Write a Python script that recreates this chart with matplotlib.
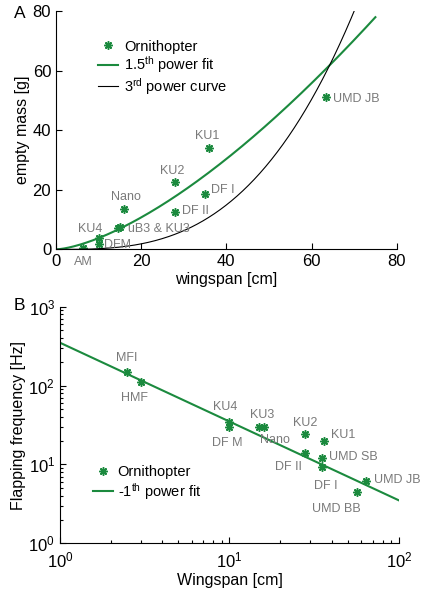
import numpy as np
import matplotlib.pyplot as plt

plt.rcParams['font.family'] = ['Liberation Sans', 'DejaVu Sans']
plt.rcParams['mathtext.fontset'] = 'custom'
plt.rcParams['mathtext.rm'] = 'Liberation Sans'
plt.rcParams['mathtext.it'] = 'Liberation Sans:italic'

green = '#1b8a3e'
gray = '#7a7a7a'
star = (8, 2, 0)

# panel A: wingspan [cm] vs empty mass [g]
span_a = [6.3, 10, 10, 14.6, 15, 16, 27.9, 28, 35, 36, 63.4]
mass_a = [0.5, 3.8, 1.7, 7.3, 7.5, 13.6, 22.6, 12.4, 18.5, 34.2, 51]
names_a = ['AM', 'KU4', 'DFM', 'uB3 & KU3', 'Nano', 'KU2', 'DF II', 'DF I', 'KU1', 'UMD JB']
name_x_a = [6.4, 8.1, 11.3, 16.8, 16.4, 27.4, 29.5, 36.5, 35.4, 65]
name_y_a = [-4.2, 6.7, 1.4, 6.7, 17.7, 26.4, 13.0, 19.9, 38.1, 50.6]
name_ha_a = ['center', 'center', 'left', 'left', 'center', 'center', 'left', 'left', 'center', 'left']
fit15_coef = 0.12
fit15_end = 75
cube_coef = 2.33e-4

# panel B: wingspan [cm] vs flapping frequency [Hz]
span_b = [2.5, 3.0, 10, 10, 15, 16, 28, 36, 28, 35, 35, 63.6, 56.8]
freq_b = [150, 110, 35, 30, 30, 30, 24, 20, 14, 12.2, 9.2, 6.2, 4.5]
names_b = ['MFI', 'HMF', 'KU4', 'DF M', 'KU3', 'Nano', 'KU2', 'KU1', 'UMD SB', 'DF II', 'DF I', 'UMD JB', 'UMD BB']
name_x_b = [2.48, 2.77, 9.5, 9.76, 15.5, 18.5, 28, 39.5, 38.6, 22.2, 36.9, 71.5, 42.5]
name_y_b = [225, 68.8, 53.8, 18.8, 42.3, 20.4, 33.8, 23.4, 12.5, 9.35, 5.37, 6.34, 2.7]
name_ha_b = ['center', 'center', 'center', 'center', 'center', 'center', 'center', 'left', 'left', 'center', 'center', 'left', 'center']
inv_coef = 350

fig = plt.figure(figsize=(4.22, 5.91), dpi=100)

# ---- A ----
ax = fig.add_axes([0.1327, 0.578, 0.8073, 0.4033])
x = np.linspace(0, fit15_end, 200)
xc = np.linspace(0, 80, 300)
ax.plot(span_a, mass_a, linestyle='none', marker=star, color=green, ms=6, mew=1.1, label='Ornithopter')
ax.plot(x, fit15_coef * x ** 1.5, color=green, lw=1.5, label='1.5$^{\\mathrm{th}}$ power fit')
ax.plot(xc, cube_coef * xc ** 3, color='black', lw=0.8, label='3$^{\\mathrm{rd}}$ power curve')
for n, tx, ty, ha in zip(names_a, name_x_a, name_y_a, name_ha_a):
    ax.text(tx, ty, n, color=gray, fontsize=9, ha=ha, va='center', clip_on=False)
ax.set_xlim(0, 80)
ax.set_ylim(0, 80)
ax.set_xticks([0, 20, 40, 60, 80])
ax.set_yticks([0, 20, 40, 60, 80])
ax.set_xlabel('wingspan [cm]', fontsize=11.5, labelpad=2)
ax.set_ylabel('empty mass [g]', fontsize=11.5, labelpad=2)
ax.legend(loc='upper left', bbox_to_anchor=(0.105, 0.905), frameon=False, fontsize=10.5,
          handlelength=1.4, handletextpad=0.4, labelspacing=0.05, borderaxespad=0)

# ---- B ----
bx = fig.add_axes([0.142, 0.0807, 0.8035, 0.4003])
xb = np.array([1, 100])
bx.plot(span_b, freq_b, linestyle='none', marker=star, color=green, ms=6, mew=1.1, label='Ornithopter')
bx.plot(xb, inv_coef / xb, color=green, lw=1.5, label='-1$^{\\mathrm{th}}$ power fit')
for n, tx, ty, ha in zip(names_b, name_x_b, name_y_b, name_ha_b):
    bx.text(tx, ty, n, color=gray, fontsize=9, ha=ha, va='center')
bx.set_xscale('log')
bx.set_yscale('log')
bx.set_xlim(1, 100)
bx.set_ylim(1, 1000)
bx.set_xlabel('Wingspan [cm]', fontsize=11.5, labelpad=2)
bx.set_ylabel('Flapping frequency [Hz]', fontsize=11.5, labelpad=2)
bx.legend(loc='upper left', bbox_to_anchor=(0.08, 0.355), frameon=False, fontsize=10.5,
          handlelength=1.4, handletextpad=0.3, labelspacing=0.1, borderaxespad=0)

fig.text(20 / 422, 1 - 13 / 591, 'A', fontsize=12.5, ha='center', va='center')
fig.text(19 / 422, 1 - 306 / 591, 'B', fontsize=12.5, ha='center', va='center')

for a in (ax, bx):
    a.spines['top'].set_visible(False)
    a.spines['right'].set_visible(False)
    a.tick_params(which='both', direction='in', labelsize=12, width=0.8)
    a.tick_params(which='major', length=4)
    a.tick_params(which='minor', length=2.5)
bx.tick_params(axis='x', pad=5)

fig.savefig('out.png', dpi=100)
